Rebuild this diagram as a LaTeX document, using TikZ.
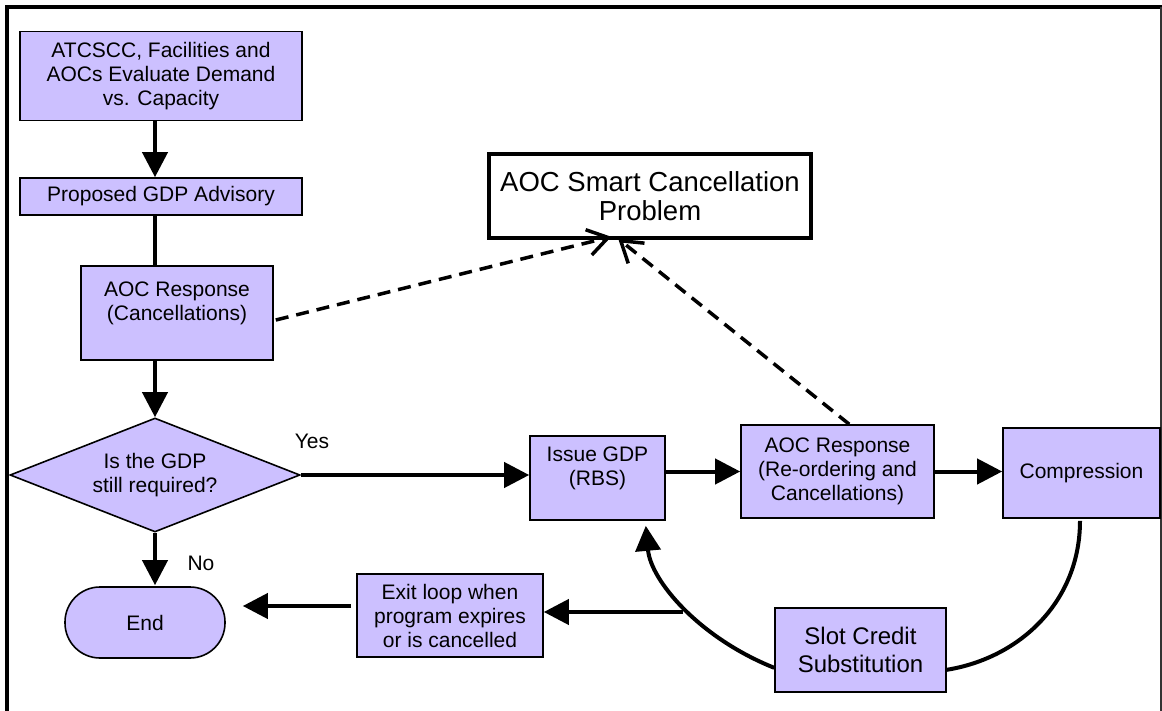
\documentclass[tikz,border=0pt]{standalone}
\usepackage{fontspec}
\setmainfont{Liberation Sans}
\newfontfamily\smartfont{Liberation Sans}
\usetikzlibrary{arrows.meta,shapes.geometric,calc}
\definecolor{lav}{RGB}{204,192,255}
\tikzset{
  box/.style={draw=black, line width=1.6pt, fill=lav, align=center, inner sep=0pt,
    font=\fontsize{21}{24}\selectfont},
  flow/.style={line width=4pt, -{Triangle[length=25pt,width=25pt]}},
  plain/.style={line width=4pt},
  hint/.style={line width=3.5pt, dash pattern=on 13pt off 8pt, -{Straight Barb[length=20pt,width=26pt,line width=3.5pt]}},
  lbl/.style={font=\fontsize{21}{24}\selectfont, inner sep=0pt}
}
\begin{document}
\begin{tikzpicture}[x=1pt,y=-1pt]
\useasboundingbox (0,0) rectangle (1162,711);
% frame
\draw[line width=4pt] (7,711) -- (7,7) -- (1162,7);
\draw[line width=1.5pt, black!80] (1161,7) -- (1161,711);

\node[box, minimum width=282pt, minimum height=89pt] (b1) at (161,76) {ATCSCC, Facilities and\\AOCs Evaluate Demand\\vs. Capacity};
\node[box, minimum width=282pt, minimum height=37pt] (b2) at (161,196.5) {Proposed GDP Advisory};
\node[box, minimum width=192pt, minimum height=94pt] (b3) at (177,313) {AOC Response\\(Cancellations)\\\mbox{}};
\node[box, diamond, aspect=2.54, minimum width=290pt, minimum height=114pt] (dia) at (155,475) {Is the GDP\\still required?};
\node[box, rectangle, rounded corners=35pt, minimum width=160pt, minimum height=71pt] (endn) at (145,622.5) {End};
\node[box, minimum width=135pt, minimum height=84pt] (issue) at (597.5,478) {Issue GDP\\(RBS)\\\mbox{}};
\node[box, minimum width=193pt, minimum height=93pt] (aoc2) at (837.5,471.5) {AOC Response\\(Re-ordering and\\Cancellations)};
\node[box, minimum width=157pt, minimum height=90pt] (comp) at (1081.5,473) {Compression};
\node[box, minimum width=171pt, minimum height=84pt, font=\fontsize{24}{28}\selectfont] (slot) at (860.5,650) {Slot Credit\\Substitution};
\node[box, minimum width=186pt, minimum height=83pt] (exitb) at (450,615.5) {Exit loop when\\program expires\\or is cancelled};
\node[draw=black, line width=3.5pt, fill=white, align=center, minimum width=322pt, minimum height=84pt, inner sep=0pt,
  font=\smartfont\fontsize{27.5}{29}\selectfont] (smart) at (650,196) {AOC Smart Cancellation\\Problem};

\node[lbl] (yes) at (312,441) {Yes};
\node[lbl] (no) at (201,563) {No};

% main flow
\draw[flow] (b1.south -| dia.north) -- (b2.north -| dia.north);
\draw[plain] (b2.south -| dia.north) -- (b3.north -| dia.north);
\draw[flow] (b3.south -| dia.north) -- (dia.north);
\draw[flow] (dia.south) -- ($(endn.north -| dia.south)+(0,-1)$);
\draw[flow] (dia.east) -- (dia.east -| issue.west);
\draw[flow] (issue.east |- aoc2.west) -- (aoc2.west);
\draw[flow] (aoc2.east) -- (aoc2.east -| comp.west);

% loop
\coordinate (cs) at ($(comp.south)+(-1.5,2)$);
\coordinate (sr) at ($(slot.south east)+(0,-23)$);
\coordinate (sl) at ($(slot.south west)+(0,-25)$);
\coordinate (it) at ($(issue.south east)+(-20,5)$);
\draw[line width=4pt] (cs) .. controls ($(cs)+(0,80)$) and ($(sr)+(74,-12)$) .. (sr);
\draw[flow] (sl) .. controls ($(sl)+(-75,-30)$) and ($(it)+(5,55)$) .. (it);
\coordinate (j) at (683,612);
\draw[flow] (j) -- (j -| exitb.east);
\coordinate (ex) at ($(exitb.west)+(-5,-9.5)$);
\draw[flow] (ex) -- ($(ex -| endn.east)+(17,0)$);

% hints
\coordinate (d1) at ($(b3.east)+(2,7)$);
\coordinate (t1) at ($(smart.south west)+(124,-3)$);
\coordinate (d2) at ($(aoc2.north west)+(109,0)$);
\coordinate (t2) at ($(smart.south west)+(131,-1)$);
\draw[hint] (d1) -- (t1);
\draw[hint] (d2) -- (t2);
\end{tikzpicture}
\end{document}
